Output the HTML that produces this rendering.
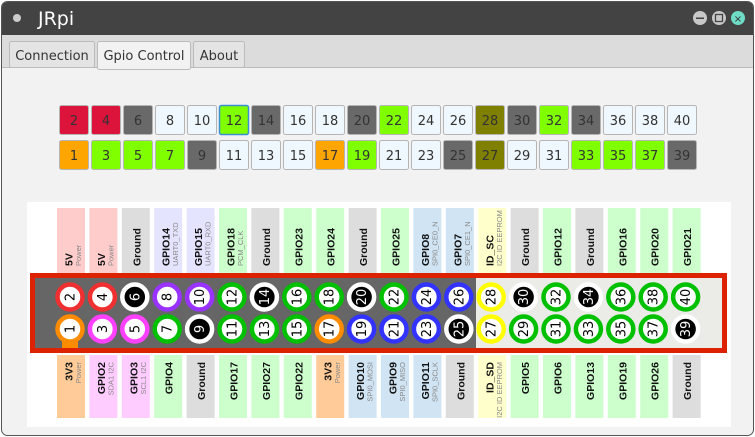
<!DOCTYPE html>
<html><head><meta charset="utf-8"><style>
body{margin:0;width:755px;height:437px;overflow:hidden;background:#fff;font-family:"DejaVu Sans","Liberation Sans",sans-serif}
svg{display:block}
</style></head><body>
<svg width="755" height="437" viewBox="0 0 755 437">
<rect x="0" y="0" width="755" height="437" fill="#fff"/>
<rect x="1.5" y="1.5" width="752" height="434" rx="6" fill="#f2f2f2" stroke="#555"/>
<path d="M2,8 Q2,2 8,2 L747,2 Q753,2 753,8 L753,35 L2,35 Z" fill="#434343"/>
<circle cx="17" cy="18" r="4" fill="#ccc"/>
<text x="38" y="25" font-size="19" fill="#fff" font-family="DejaVu Sans, sans-serif">JRpi</text>
<g><circle cx="700" cy="18" r="7" fill="#c8c8c8"/><rect x="696" y="17.5" width="8" height="1.5" fill="#444"/></g>
<g><circle cx="719" cy="18" r="7" fill="#c8c8c8"/><rect x="715.5" y="14.5" width="7" height="7" fill="none" stroke="#444" stroke-width="1.3"/></g>
<g><circle cx="738" cy="18" r="7" fill="#6fdcc6"/><text x="738" y="22" font-size="10" text-anchor="middle" fill="#333">×</text></g>
<rect x="2" y="35" width="751" height="33" fill="#dcdcdc"/>
<line x1="2" y1="67.5" x2="753" y2="67.5" stroke="#bbb"/>
<g><rect x="9.5" y="41.5" width="85" height="26" rx="2" fill="#e4e4e4" stroke="#bbb"/><text x="52" y="60" font-size="13" text-anchor="middle" fill="#333">Connection</text></g>
<g><rect x="97.5" y="41.5" width="93" height="28" rx="2" fill="#f2f2f2" stroke="#bbb"/><text x="144" y="60" font-size="13" text-anchor="middle" fill="#333">Gpio Control</text></g>
<g><rect x="193.5" y="41.5" width="51" height="26" rx="2" fill="#e4e4e4" stroke="#bbb"/><text x="219" y="60" font-size="13" text-anchor="middle" fill="#333">About</text></g>
<g id="buttons"></g>
<rect x="27" y="202" width="704" height="225" fill="#fff"/>
<g id="labels"></g>
<rect x="32.5" y="275.5" width="692" height="75" fill="#ebebe8" stroke="#dd2200" stroke-width="5"/>
<rect x="35" y="278" width="441" height="70" fill="#666"/>
<rect x="62" y="336" width="16" height="12" fill="#ff8c00"/>
<g id="pins"></g>
</svg>
<script>
// button states: top row even pins, bottom row odd pins
const topBtn=["red","red","gray","w","w","green","gray","w","w","gray","green","w","w","olive","gray","green","gray","w","w","w"];
const botBtn=["orange","green","green","green","gray","w","w","w","orange","green","w","w","gray","olive","w","w","green","green","green","gray"];
const topMain=["5V","5V","Ground","GPIO14","GPIO15","GPIO18","Ground","GPIO23","GPIO24","Ground","GPIO25","GPIO8","GPIO7","ID_SC","Ground","GPIO12","Ground","GPIO16","GPIO20","GPIO21"];
const topSub=["Power","Power","","UART0_TXD","UART0_RXD","PCM_CLK","","","","","","SPI0_CE0_N","SPI0_CE1_N","I2C ID EEPROM","","","","","",""];
const topType=["p5","p5","gnd","uart","uart","gpio","gnd","gpio","gpio","gnd","gpio","spi","spi","id","gnd","gpio","gnd","gpio","gpio","gpio"];
const botMain=["3V3","GPIO2","GPIO3","GPIO4","Ground","GPIO17","GPIO27","GPIO22","3V3","GPIO10","GPIO9","GPIO11","Ground","ID_SD","GPIO5","GPIO6","GPIO13","GPIO19","GPIO26","Ground"];
const botSub=["Power","SDA1 I2C","SCL1 I2C","","","","","","Power","SPI0_MOSI","SPI0_MISO","SPI0_SCLK","","I2C ID EEPROM","","","","","",""];
const botType=["p3","i2c","i2c","gpio","gnd","gpio","gpio","gpio","p3","spi","spi","spi","gnd","id","gpio","gpio","gpio","gpio","gpio","gnd"];
const btnFill={red:"#dc143c",gray:"#696969",w:"#f0f8ff",green:"#7fff00",orange:"#ffa500",olive:"#808000"};
const labFill={p5:"#ffcccc",p3:"#ffcc99",gnd:"#dddddd",uart:"#e4e4ff",gpio:"#ccffcc",spi:"#d0e4f4",id:"#ffffcc",i2c:"#ffccff"};
const ring={p5:"#f03030",p3:"#ff8c00",gnd:"#ffffff",uart:"#9933ff",gpio:"#00c000",spi:"#3333ff",id:"#ffff00",i2c:"#ff40ff"};
const NS="http://www.w3.org/2000/svg";
function mk(t,a,p){const e=document.createElementNS(NS,t);for(const k in a)e.setAttribute(k,a[k]);p.appendChild(e);return e;}
const bx=i=>59+i*32, lx=i=>57+i*32.4, px=i=>70+i*32.4;
const B=document.getElementById('buttons'),L=document.getElementById('labels'),P=document.getElementById('pins');
[[topBtn,105,0],[botBtn,140,1]].forEach(([arr,y,odd])=>{arr.forEach((s,i)=>{
 const g=mk('g',{},B);
 
 
 const focus=(!odd&&i==5);
 mk('rect',{x:bx(i)+.5,y:y+.5,width:29,height:29,rx:2,fill:btnFill[s],stroke:focus?"#3a8fd6":"#b5b5b5","stroke-width":focus?1.5:1},g);
 const t=mk('text',{x:bx(i)+15,y:y+20,"font-size":13,"text-anchor":"middle",fill:"#333"},g);t.textContent=(i*2+1+(odd?0:1));
});});
function label(main,sub,type,i,top){
 const g=mk('g',{},L);
 
 
 const x=lx(i);const y=top?208:355,h=top?65:63;
 mk('rect',{x:x,y:y,width:28,height:h,fill:labFill[type]},g);
 const ay=top?266:362, anc=top?"start":"end";
 const mb=sub? x+15.5 : x+18.5;
 const t=mk('text',{x:mb,y:ay,transform:`rotate(-90 ${mb} ${ay})`,"font-size":10.5,"font-weight":"bold","font-family":"Liberation Sans, sans-serif","text-anchor":anc,fill:"#111"},g);t.textContent=main;
 if(sub){const sb=x+24;const s=mk('text',{x:sb,y:ay,transform:`rotate(-90 ${sb} ${ay})`,"font-size":7.5,"font-family":"Liberation Sans, sans-serif","text-anchor":anc,fill:"#888"},g);s.textContent=sub;}
}
topMain.forEach((m,i)=>label(m,topSub[i],topType[i],i,true));
botMain.forEach((m,i)=>label(m,botSub[i],botType[i],i,false));
function pin(n,type,i,cy){
 const g=mk('g',{},P);
 
 
 const cx=px(i);const gnd=type=="gnd";
 mk('circle',{cx:cx,cy:cy,r:12.5,fill:gnd?"#000":"#fff",stroke:ring[type],"stroke-width":4.5},g);
 const tx=cx+4.5;
 const t=mk('text',{x:tx,y:cy,transform:`rotate(-90 ${tx} ${cy})`,"font-size":13,"text-anchor":"middle","font-family":"DejaVu Sans, sans-serif",fill:gnd?"#fff":"#000"},g);t.textContent=n;
}
topType.forEach((t,i)=>pin(i*2+2,t,i,297));
botType.forEach((t,i)=>pin(i*2+1,t,i,329));
</script>
</body></html>
